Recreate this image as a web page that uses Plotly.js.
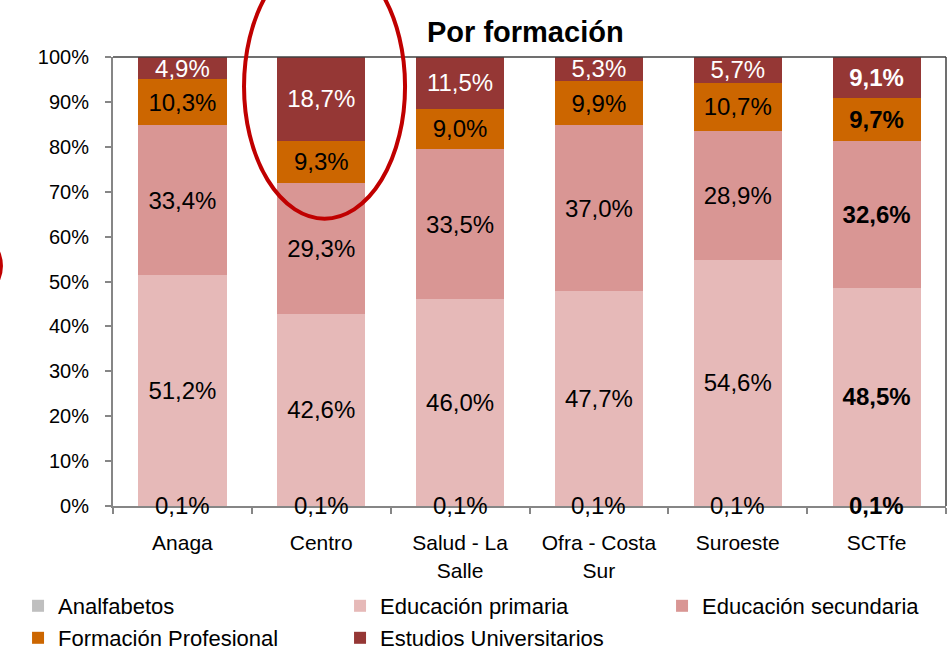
<!DOCTYPE html>
<html>
<head>
<meta charset="utf-8">
<script src="https://cdn.plot.ly/plotly-3.0.1.min.js"></script>
<style>
  body { margin: 0; background: #fff; }
  #chart { width: 948px; height: 652px; }
</style>
</head>
<body>
<div id="chart"></div>
<script>
// zonas (categorias del eje x)
var zonas = ["Anaga", "Centro", "Salud - La<br>Salle", "Ofra - Costa<br>Sur", "Suroeste", "SCTfe"];

// porcentajes por nivel de formacion
var analfabetos   = [0.1, 0.1, 0.1, 0.1, 0.1, 0.1];
var primaria      = [51.2, 42.6, 46.0, 47.7, 54.6, 48.5];
var secundaria    = [33.4, 29.3, 33.5, 37.0, 28.9, 32.6];
var profesional   = [10.3, 9.3, 9.0, 9.9, 10.7, 9.7];
var universitarios = [4.9, 18.7, 11.5, 5.3, 5.7, 9.1];

var yTicks = [0, 10, 20, 30, 40, 50, 60, 70, 80, 90, 100];

var FONT = "Liberation Sans, Arial, sans-serif";

// etiqueta con coma decimal, la ultima (SCTfe) en negrita
function etiquetas(vals) {
  return vals.map(function(v, i) {
    var s = v.toFixed(1).replace(".", ",") + "%";
    return i === vals.length - 1 ? "<b>" + s + "</b>" : s;
  });
}

function serie(name, vals, color, txtColor, legend, lw, conTexto) {
  return {
    type: "bar",
    name: name,
    x: zonas,
    y: vals,
    marker: { color: color },
    text: etiquetas(vals),
    textposition: conTexto ? "inside" : "none",
    insidetextanchor: "middle",
    textangle: 0,
    constraintext: "none",
    cliponaxis: false,
    textfont: { family: FONT, size: 24, color: txtColor },
    hoverinfo: "x+y+name",
    legend: legend,
    legendwidth: lw
  };
}

var data = [
  serie("Analfabetos", analfabetos, "#BFBFBF", "#000000", "legend", 277, false),
  serie("Educación primaria", primaria, "#E6B9B8", "#000000", "legend", 277, true),
  serie("Educación secundaria", secundaria, "#D99694", "#000000", "legend", 240, true),
  serie("Formación Profesional", profesional, "#CC6600", "#000000", "legend2", 277, true),
  serie("Estudios Universitarios", universitarios, "#953735", "#FFFFFF", "legend2", 260, true)
];

// etiquetas de analfabetos sobre el eje (la barra es demasiado fina)
var totales = zonas.map(function(z, i) {
  return analfabetos[i] + primaria[i] + secundaria[i] + profesional[i] + universitarios[i];
});
var notas = zonas.map(function(z, i) {
  return {
    x: z, y: analfabetos[i] / totales[i] * 50, xref: "x", yref: "y",
    text: etiquetas(analfabetos)[i], showarrow: false,
    xanchor: "center", yanchor: "middle",
    font: { family: FONT, size: 24, color: "#000" }
  };
});

var legendBase = {
  orientation: "h",
  traceorder: "normal",
  xanchor: "left", yanchor: "middle",
  x: -0.114,
  font: { family: FONT, size: 22, color: "#000" },
  entrywidthmode: "pixels",
  bgcolor: "rgba(0,0,0,0)"
};

var layout = {
  width: 948,
  height: 652,
  barmode: "stack",
  barnorm: "percent",
  bargap: 0.365,
  paper_bgcolor: "#fff",
  plot_bgcolor: "#fff",
  font: { family: FONT, size: 20, color: "#000" },
  margin: { l: 113, r: 2, t: 57, b: 146, autoexpand: false },
  title: {
    text: "<b>Por formación</b>",
    font: { family: FONT, size: 29, color: "#000" },
    xref: "paper", x: 0.495, xanchor: "center",
    yref: "container", y: 1 - 32 / 652, yanchor: "middle"
  },
  xaxis: {
    type: "category",
    showline: true, linecolor: "#868686", linewidth: 2,
    ticks: "outside", tickson: "boundaries", ticklen: 6, tickcolor: "#868686", tickwidth: 2,
    ticklabelstandoff: 17,
    tickfont: { family: FONT, size: 21, color: "#000" },
    showgrid: false, zeroline: false, fixedrange: true
  },
  yaxis: {
    range: [0, 100],
    tickvals: yTicks,
    ticktext: yTicks.map(function(t) { return t + "%"; }),
    showline: true, linecolor: "#868686", linewidth: 2,
    ticks: "outside", ticklen: 6, tickcolor: "#868686", tickwidth: 2,
    ticklabelstandoff: 12,
    tickfont: { family: FONT, size: 20, color: "#000" },
    showgrid: false, zeroline: false, fixedrange: true
  },
  legend: Object.assign({}, legendBase, { y: (506 - 606) / 449 }),
  legend2: Object.assign({}, legendBase, { y: (506 - 638) / 449 }),
  annotations: notas,
  shapes: [
    // borde superior y derecho del area de trazado
    { type: "line", xref: "paper", yref: "paper", x0: 0, x1: 1, y0: 1, y1: 1,
      line: { color: "#404040", width: 1.5 } },
    { type: "line", xref: "paper", yref: "paper", x0: 1, x1: 1, y0: 0, y1: 1,
      line: { color: "#404040", width: 1.5 } },
    // ovalo rojo alrededor de Centro
    { type: "circle", xref: "paper", yref: "paper", x0: 0.1573, x1: 0.3506, y0: 0.64, y1: 1.229,
      line: { color: "#C00000", width: 4 }, layer: "above" },
    // ovalo recortado en el borde izquierdo
    { type: "circle", xref: "paper", yref: "paper", x0: -0.3265, x1: -0.1345, y0: 0.423, y1: 0.646,
      line: { color: "#C00000", width: 4 }, layer: "above" }
  ]
};

Plotly.newPlot("chart", data, layout, { displayModeBar: false, staticPlot: true });
</script>
</body>
</html>
